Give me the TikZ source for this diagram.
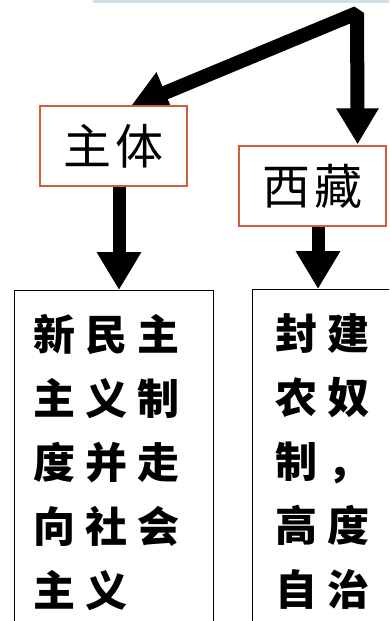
\documentclass[tikz,border=0pt]{standalone}
\usepackage{fontspec}
\newfontfamily\cjklabel[LetterSpace=10]{Noto Sans CJK SC}
\newfontfamily\cjkbody[LetterSpace=24]{Noto Sans CJK SC}
\usetikzlibrary{arrows.meta, backgrounds}

\definecolor{boxred}{RGB}{205,95,60}
\definecolor{topblue}{RGB}{210,222,230}

\tikzset{
  labelbox/.style={draw=boxred, line width=1.3pt, fill=white, inner sep=0pt,
    minimum width=147pt, minimum height=80pt,
    font=\cjklabel\fontsize{48}{52}\selectfont},
  textbox/.style={draw=black, line width=1pt, fill=white, anchor=north west,
    align=left, inner ysep=24pt,
    font=\cjkbody\bfseries\fontsize{42}{64}\selectfont},
  fatarrow/.style={line width=13pt, -{Triangle[width=42pt,length=38pt]}},
}

\begin{document}
\begin{tikzpicture}[x=1pt,y=-1pt]
  \clip (0,0) rectangle (389,621);
  % \draw[help lines,step=50] (0,0) grid (389,621);

  % edge of the box above
  \fill[topblue] (93,-10) rectangle (400,3);

  \node[labelbox] (zhuti) at (113.5,146) {主体};
  \node[labelbox] (xizang) at (312.5,186) {西藏};

  \node[textbox, inner xsep=19pt, text width=161pt] (zhutitext) at (14,290)
    {新民主\\主义制\\度并走\\向社会\\主义};
  \node[textbox, inner xsep=23pt, text width=110pt] (xizangtext) at (252,289)
    {封建\\农奴\\制，\\高度\\自治};

  \coordinate (fork) at (357,13);

  \begin{scope}[on background layer]
    \draw[line width=14pt, line join=bevel, {Triangle[width=42pt,length=38pt]}-{Triangle[width=40pt,length=36pt]}]
      ([xshift=16.5pt,yshift=-2pt]zhuti.north) -- (fork) -- ([xshift=-29pt,yshift=1pt]xizang.north east);
  \end{scope}
  \draw[fatarrow] ([xshift=5.5pt]zhuti.south) -- ([xshift=5.5pt]zhuti.south |- zhutitext.north);
  \draw[fatarrow] ([xshift=5.5pt]xizang.south) -- ([xshift=5.5pt]xizang.south |- xizangtext.north);
\end{tikzpicture}
\end{document}
